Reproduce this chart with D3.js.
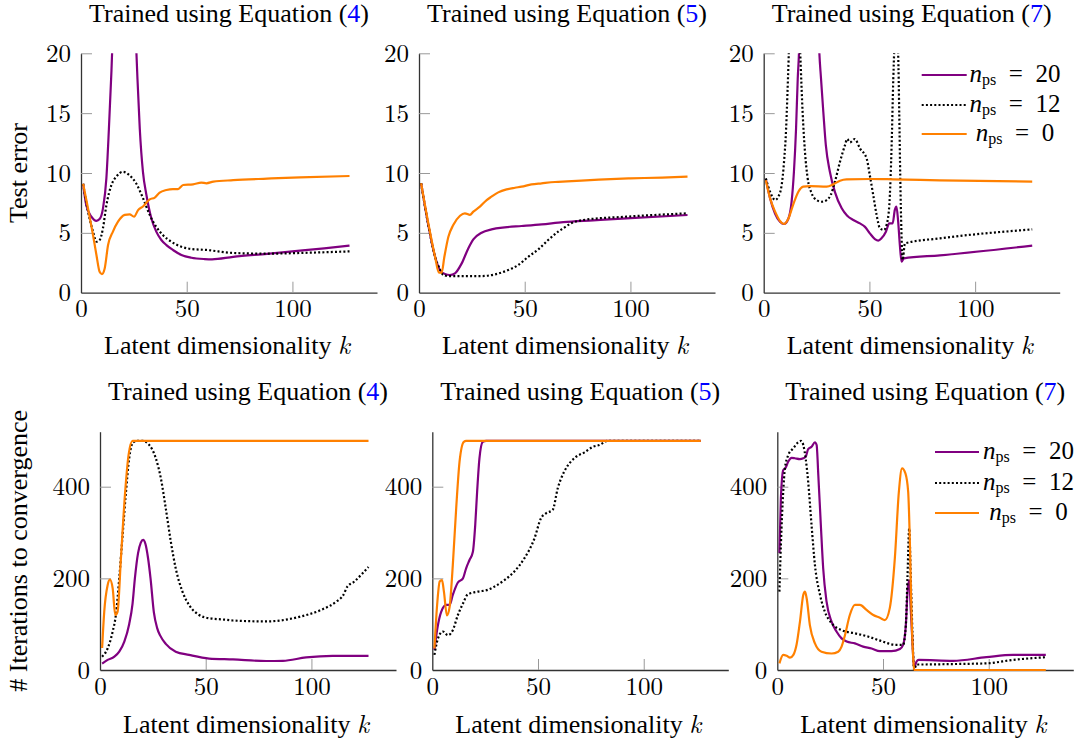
<!DOCTYPE html>
<html>
<head>
<meta charset="utf-8">
<script src="https://cdn.jsdelivr.net/npm/d3@7"></script>
<style>
  body { margin: 0; background: #fff; }
</style>
</head>
<body>
<svg id="chart" width="1078" height="740"></svg>
<script>
// ---- data: [k, value] pairs ----
// test error, trained with eq (4)
var err4N20 = [[1,9.1],[2.5,7.3],[4.9,6.35],[7.3,6.0],[8.8,6.15],[10.4,7.05],[12,9.55],[13.2,13.7],[14.4,18.5],[15.5,24],[17,35],[20,48],[23,38],[25,27],[26.2,20.1],[26.7,17.9],[27.8,13.7],[29.3,10.1],[30.9,8.2],[33.3,6.2],[35.6,5.1],[38,4.4],[40.4,3.98],[43.5,3.57],[47.5,3.15],[52.2,2.92],[58.5,2.81],[62,2.79],[72,3.0],[88,3.25],[100,3.45],[115,3.7],[127,3.93]];
var err4N12 = [[1,9.1],[3.3,6.8],[5.7,5.1],[7.3,4.26],[8.8,4.4],[10.4,5.4],[12,7.3],[14.4,9.0],[16.7,9.7],[19.9,10.1],[23,9.8],[26.2,9.1],[29.3,7.9],[32.5,6.5],[35.6,5.5],[38.8,4.8],[42.7,4.26],[47.5,3.84],[52.2,3.65],[59.3,3.57],[72,3.32],[88,3.26],[100,3.3],[115,3.38],[127,3.45]];
var err4N0 = [[1,9.1],[3.3,7.05],[5.7,4.8],[7.3,3.15],[8.8,1.75],[9.9,1.56],[11.2,2.03],[12.8,3.98],[15.1,5.1],[17.5,5.93],[20.7,6.5],[23,6.55],[25.1,6.35],[27,6.9],[29.3,7.2],[32.5,7.8],[34.9,7.95],[37.2,8.36],[40.4,8.58],[43.5,8.66],[45.9,8.66],[48.3,9.0],[53,9.05],[56.9,9.2],[59.3,9.14],[62.6,9.28],[72,9.4],[88,9.53],[103.6,9.64],[127,9.75]];

// test error, trained with eq (5)
var err5N20 = [[1,9.14],[4.4,5.65],[7.6,3.0],[9.9,1.9],[12.3,1.56],[14.6,1.48],[17,1.62],[20.2,2.45],[23.3,3.7],[25.7,4.46],[29.6,5.01],[34.3,5.29],[40.6,5.46],[48.5,5.57],[58,5.71],[68.2,5.9],[82.4,6.05],[98,6.21],[127,6.49]];
var err5N12 = [[1,9.14],[4.4,5.65],[7.6,3.0],[9.9,1.95],[11.5,1.48],[13.9,1.39],[21.7,1.39],[29.6,1.39],[35.9,1.53],[42.2,1.89],[46.9,2.31],[51.7,3.0],[56.4,3.62],[61.1,4.4],[65.8,5.1],[68.2,5.38],[72,5.8],[77.6,6.07],[98,6.35],[127,6.63]];
var err5N0 = [[1,9.14],[4.4,5.8],[7.6,3.0],[9.4,1.67],[10.7,1.67],[12,3.0],[13.9,4.68],[16.2,5.65],[19.4,6.43],[21.7,6.63],[24.1,6.5],[25.7,6.77],[28.8,7.19],[32,7.74],[34.3,8.02],[37.5,8.38],[41.4,8.63],[45.4,8.77],[48.5,8.86],[53.2,9.05],[58,9.14],[64.3,9.25],[70,9.3],[85,9.45],[100,9.55],[115,9.62],[127,9.7]];

// test error, trained with eq (7)
var err7N20 = [[1,9.5],[3,7.9],[5.4,6.6],[7.7,5.93],[9.6,5.74],[11.7,6.2],[13.2,7.6],[14.3,10.1],[15.3,13.7],[16.1,17.9],[16.7,20.1],[17.5,26],[20,40],[23,38],[25.5,24],[26.3,20.1],[27.1,17.9],[28.2,15.1],[29.4,12.3],[31.3,10.1],[33.7,8.4],[36.9,7.05],[39.5,6.43],[42.4,6.07],[45.5,5.79],[47.9,5.5],[50.2,4.96],[52.6,4.48],[54.2,4.35],[55.7,4.54],[57.8,5.1],[59.4,5.79],[61,5.79],[62,6.9],[62.8,7.19],[63.6,5.93],[64.4,3.98],[65.2,2.59],[66.3,2.87],[83.3,3.12],[127,3.93]];
var err7N12 = [[1,9.55],[3,8.44],[5.4,7.74],[6.9,8.02],[8.5,9.0],[9.6,10.9],[10.6,13.7],[11.2,16.5],[11.8,19.6],[12.5,24],[14.5,30],[16.5,24],[17.5,19.0],[18.4,15.1],[19.5,11.8],[20.8,9.55],[22.7,8.3],[25,7.74],[27.4,7.6],[29.8,7.74],[31.7,8.16],[33.7,9.28],[36.1,10.95],[38.4,12.3],[39.5,12.84],[40.8,12.56],[43.1,12.84],[45.5,12.06],[48.7,11.2],[50.2,9.8],[51.8,8.16],[53.4,6.5],[55,5.38],[56.9,5.24],[58.1,5.65],[59.4,7.3],[60.5,12.3],[61.3,17.9],[61.7,20.1],[62.6,26],[63.3,21],[63.6,19.9],[64.1,15.1],[64.6,9.55],[65.1,5.38],[65.7,2.73],[66.8,4.12],[83.3,4.54],[127,5.29]];
var err7N0 = [[1,9.4],[3,7.9],[5.4,6.77],[7.7,5.99],[9.6,5.74],[11.7,6.2],[14,7.38],[16.4,8.44],[18.7,8.86],[21.9,8.91],[29.8,8.86],[32.9,9.05],[36.1,9.36],[39.2,9.47],[50.2,9.5],[61.3,9.47],[83.3,9.38],[127,9.28]];

// iterations to convergence, eq (4)
var it4N20 = [[1,14],[3.6,22],[6.8,29],[9.1,40],[11.5,62],[13.8,100],[15.4,145],[16.5,200],[18,255],[19.3,278],[20.4,284],[21.5,275],[22.7,245],[23.9,200],[25.5,125],[27,92],[28.5,75],[31.1,57],[35.8,40],[42.1,33],[51.6,25],[62.9,23],[78.6,19.6],[86.5,20],[97.5,27.6],[110,31],[127,31]];
var it4N12 = [[1,29],[3.6,47],[6,84],[7.5,120],[9.1,200],[10.7,295],[12.3,389],[13.8,462],[15.7,497],[18,500],[20.1,500],[23.3,491],[26.4,462],[28.8,418],[31.1,353],[33.5,280],[35.8,222],[39,171],[42.1,142],[46.9,120],[51.6,113],[58.6,110],[62.9,108],[78.6,106],[94.3,116],[105,132],[112,150],[115,163],[117,182],[120,192],[124,210],[127,225]];
var it4N0 = [[1,48],[2,127],[3.6,185],[4.7,197],[6,178],[7.2,120],[8.3,127],[9.9,244],[11.9,389],[13.5,469],[15.4,500],[20,500],[127,500]];

// iterations to convergence, eq (5)
var it5N20 = [[1,44],[2.4,91],[4.2,127],[6.6,142],[8.2,142],[9.7,164],[12.1,191],[14.5,200],[16,222],[17.6,240],[19.2,258],[20.3,316],[21.2,389],[22.3,462],[23.9,498],[25.5,500],[30,500],[127,500]];
var it5N12 = [[1,33],[2.7,69],[5,84],[7.4,76],[9.7,87],[12.1,120],[14.5,145],[16.8,165],[21.5,171],[26.3,175],[29.4,182],[34.1,196],[38.8,215],[43.6,244],[48.3,287],[51.4,331],[53.8,342],[56.9,349],[59.3,396],[62.4,433],[65.6,455],[67.9,465],[72,475],[75.9,487],[79,491],[83,500],[90,500],[127,500]];
var it5N0 = [[1,47],[2.4,149],[3.5,193],[4.6,196],[5.5,171],[6.9,119],[8.2,138],[9.7,229],[11.3,353],[12.9,455],[14.9,498],[16,500],[20,500],[127,500]];

// iterations to convergence, eq (7)
var it7N20 = [[1,255],[1.7,375],[2.8,436],[3.9,441],[5.2,455],[6.8,463],[8.3,462],[10.7,460],[12.3,462],[13.4,465],[14.6,482],[16.2,487],[17.8,497],[18.6,491],[19.4,425],[20.6,316],[21.7,222],[23.3,149],[25.7,105],[28,84],[30.4,69],[32.8,62],[36.7,58],[40.6,51],[44.6,47],[48.5,41],[54,41],[58,46],[59.5,55],[60.8,98],[61.6,171],[62.4,196],[63.1,135],[63.9,62],[64.7,4],[65.8,18],[66.9,22],[83.1,20],[98.9,28],[111.5,33],[127,33]];
var it7N12 = [[1,171],[1.7,273],[2.8,389],[3.6,440],[5.2,469],[7.6,484],[9.9,497],[11.2,500],[12.3,491],[13.4,462],[14.6,411],[16.2,316],[17.8,229],[20.2,164],[22.5,127],[25.7,102],[30.4,87],[36.7,80],[42.9,73],[49.3,63],[55.6,55],[59.5,55],[60.8,98],[61.6,207],[62.4,309],[63.1,207],[63.9,84],[64.7,0],[65.8,12],[68.2,12],[83.1,13],[98.9,14.5],[111.5,22],[127,28]];
var it7N0 = [[1,14.5],[2.8,33],[4.4,31],[6,27],[7.6,33],[9.1,55],[10.7,105],[12.3,164],[13.1,171],[13.9,156],[15.4,98],[17.8,58],[20.9,40],[25.7,36],[28.8,40],[30.4,51],[32,76],[34.3,120],[36.7,142],[39.1,142],[42.2,131],[45.4,120],[48.5,114],[50.9,109],[53.2,135],[55.6,244],[57.5,389],[59,440],[60.6,429],[61.9,389],[62.7,280],[63.4,135],[64.3,25],[64.7,0],[127,0]];

var equations = ["4", "5", "7"];
var errTicks = [0, 5, 10, 15, 20];
var iterTicks = [0, 200, 400];
var kTicks = [0, 50, 100];
var legendLabels = ["20", "12", "0"];
var seriesColors = ["#800080", "#000000", "#ff8000"];
var seriesDash = [null, "2,2.2", null];

// text fonts: Times-like for words, Computer-Modern-like for numbers
var times = "'Liberation Serif', 'Times New Roman', Tinos";
var cm = "'Latin Modern Roman', 'Liberation Serif'";

// ---- layout ----
var svg = d3.select("#chart");
var plotW = 296;
var rows = [
  { top: 53.3, h: 239.4, ymax: 20, ticks: errTicks, ylabel: "Test error", titleY: 22, xlabelY: 354,
    lefts: [81, 419, 763.7], series: [[err4N20, err4N12, err4N0], [err5N20, err5N12, err5N0], [err7N20, err7N12, err7N0]],
    legend: { x1: 921.7, x2: 966.7, tx: 1015, ys: [75, 105, 134] } },
  { top: 431.7, h: 238.3, ymax: 520, ticks: iterTicks, ylabel: "# Iterations to convergence", titleY: 400, xlabelY: 733,
    lefts: [100, 432.3, 777.3], series: [[it4N20, it4N12, it4N0], [it5N20, it5N12, it5N0], [it7N20, it7N12, it7N0]],
    legend: { x1: 935, x2: 979, tx: 1028.5, ys: [452, 483, 513] } }
];

var x = d3.scaleLinear().domain([0, 140]).range([0, plotW]);

rows.forEach(function(row, r) {
  var y = d3.scaleLinear().domain([0, row.ymax]).range([row.h, 0]);
  var line = d3.line()
    .x(function(d) { return x(d[0]); })
    .y(function(d) { return y(d[1]); })
    .curve(d3.curveMonotoneX);

  row.lefts.forEach(function(left, c) {
    var g = svg.append("g").attr("transform", "translate(" + left + "," + row.top + ")");

    // clip so the spikes stop at the top of the axis
    var clipId = "clip" + r + c;
    g.append("clipPath").attr("id", clipId)
      .append("rect").attr("x", -5).attr("y", 0).attr("width", plotW + 10).attr("height", row.h + 5);

    // axes (ticks point inward)
    var yAxis = g.append("g")
      .call(d3.axisLeft(y).tickValues(row.ticks).tickSize(-11).tickSizeOuter(0).tickPadding(10));
    var xAxis = g.append("g")
      .attr("transform", "translate(0," + row.h + ")")
      .call(d3.axisBottom(x).tickValues(kTicks).tickSize(-11).tickSizeOuter(0).tickPadding(7));
    [xAxis, yAxis].forEach(function(a) {
      a.selectAll(".tick line").filter(function(d) { return d === 0; }).remove();
      a.selectAll(".tick line").attr("stroke", "#999").attr("stroke-width", 1);
      a.select(".domain").attr("stroke", "#333").attr("stroke-width", 1.3);
      a.selectAll(".tick text")
        .attr("fill", "#000")
        .style("font-family", cm)
        .style("font-size", "25px");
    });
    yAxis.raise();

    // series
    var lines = g.append("g").attr("clip-path", "url(#" + clipId + ")");
    row.series[c].forEach(function(data, s) {
      lines.append("path")
        .datum(data)
        .attr("fill", "none")
        .attr("stroke", seriesColors[s])
        .attr("stroke-width", 2.2)
        .attr("stroke-dasharray", seriesDash[s])
        .attr("stroke-linejoin", "round")
        .attr("d", line);
    });

    // title
    var title = svg.append("text")
      .attr("x", left + plotW / 2).attr("y", row.titleY)
      .attr("text-anchor", "middle")
      .style("font-family", times).style("font-size", "26px");
    title.append("tspan").text("Trained using Equation (");
    title.append("tspan").style("fill", "#0000ff").text(equations[c]);
    title.append("tspan").text(")");

    // x label
    var xl = svg.append("text")
      .attr("x", left + plotW / 2 - 2).attr("y", row.xlabelY)
      .attr("text-anchor", "middle")
      .style("font-family", times).style("font-size", "26px");
    xl.append("tspan").text("Latent dimensionality ");
    xl.append("tspan").style("font-family", cm).style("font-style", "italic").text("k");
  });

  // y label on the left column
  svg.append("text")
    .attr("transform", "translate(27," + (row.top + row.h / 2) + ") rotate(-90)")
    .attr("text-anchor", "middle")
    .style("font-family", times).style("font-size", "26px")
    .text(row.ylabel);

  // legend in the right column: one text per entry, centred
  var lg = row.legend;
  legendLabels.forEach(function(lab, s) {
    svg.append("line")
      .attr("x1", lg.x1).attr("x2", lg.x2).attr("y1", lg.ys[s]).attr("y2", lg.ys[s])
      .attr("stroke", seriesColors[s]).attr("stroke-width", 2.2)
      .attr("stroke-dasharray", seriesDash[s]);
    var t = svg.append("text")
      .attr("x", lg.tx).attr("y", lg.ys[s] + 7)
      .attr("text-anchor", "middle")
      .style("font-family", times).style("font-size", "25px");
    t.append("tspan").style("font-style", "italic").text("n");
    t.append("tspan").attr("dy", 3).style("font-size", "16px").text("ps");
    t.append("tspan").attr("dy", -3).text("\u2002=\u2002" + lab);
  });
});
</script>
</body>
</html>
